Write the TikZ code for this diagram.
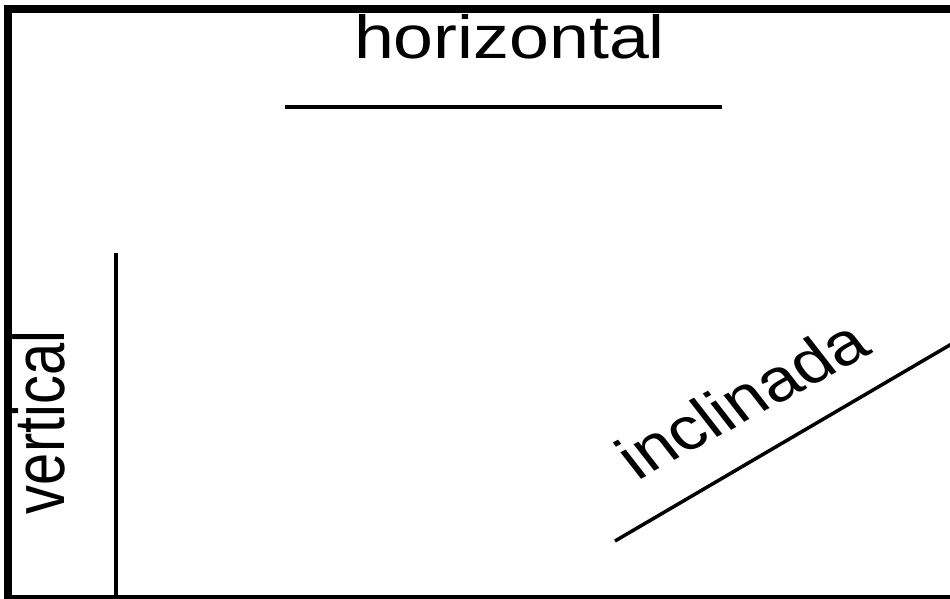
\documentclass[tikz,border=0pt]{standalone}
\usepackage{fontspec}
\setmainfont{Liberation Sans}
\begin{document}
\begin{tikzpicture}[x=1bp,y=-1bp,
  thinline/.style={line width=3.5bp},
  lbl/.style={inner sep=0pt,outer sep=0pt}]
\useasboundingbox (0,0) rectangle (950,599);
\clip (0,0) rectangle (950,599);
\fill[white] (0,0) rectangle (950,599);
% frame
\coordinate (ftr) at (970,9);
\coordinate (ftl) at (8,9);
\coordinate (fbl) at (8,599);
\coordinate (fbr) at (970,599);
\draw[line width=8bp] (ftr) -- (ftl) -- (fbl) -- (fbr);
% horizontal
\node[lbl,anchor=base west,xscale=1.18] (th) at (354,59) {\fontsize{61}{70}\selectfont horizontal};
\coordinate (h1) at (285,107);
\coordinate (h2) at (722,107);
\draw[thinline] (h1) -- (h2);
% vertical
\node[lbl,anchor=base west,xscale=1.24,rotate=90] (tv) at (64,514) {\fontsize{58}{70}\selectfont vertical};
\coordinate (v1) at (116,253);
\coordinate (v2) at (116,605);
\draw[thinline] (v1) -- (v2);
% inclinada
\node[lbl,anchor=base west,xscale=1.2,rotate=33] (ti) at (637,481) {\fontsize{60}{70}\selectfont inclinada};
\coordinate (i1) at (615,541);
\coordinate (i2) at (955,342);
\draw[thinline] (i1) -- (i2);
\end{tikzpicture}
\end{document}
